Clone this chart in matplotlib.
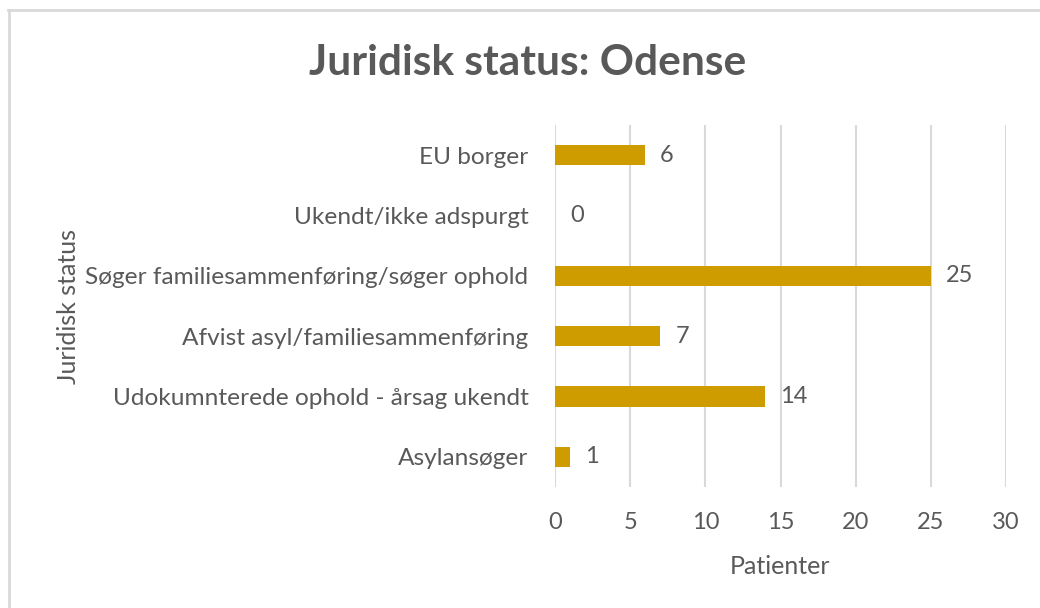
import matplotlib.pyplot as plt
from matplotlib.lines import Line2D

categories = ['Asylansøger', 'Udokumnterede ophold - årsag ukendt', 'Afvist asyl/familiesammenføring',
              'Søger familiesammenføring/søger ophold', 'Ukendt/ikke adspurgt', 'EU borger']
patients = [1, 14, 7, 25, 0, 6]
xticks = [0, 5, 10, 15, 20, 25, 30]

plt.rcParams['font.family'] = ['Lato', 'DejaVu Sans']
text_col = '#595959'
bar_col = '#CF9C00'

fig = plt.figure(figsize=(10.4, 6.08), dpi=100)
ax = fig.add_axes([555 / 1040, 1 - 487 / 608, 451 / 1040, 362 / 608])

y = range(len(categories))
ax.barh(y, patients, height=0.34, color=bar_col, zorder=3)
for yi, v in zip(y, patients):
    ax.text(v + 1.0, yi, str(v), va='center', ha='left', fontsize=17, color=text_col)

ax.set_xlim(0, 30)
ax.set_ylim(-0.5, len(categories) - 0.5)
ax.set_xticks(xticks)
ax.set_yticks(list(y))
ax.set_yticklabels(categories, fontsize=17.6)
ax.tick_params(axis='both', length=0, labelcolor=text_col)
ax.tick_params(axis='x', labelsize=17)
ax.tick_params(axis='y', pad=19)
ax.tick_params(axis='x', pad=18)
ax.grid(axis='x', color='#D9D9D9', linewidth=1.5, zorder=0)
for s in ax.spines.values():
    s.set_visible(False)

ax.set_xlabel('Patienter', fontsize=18, color=text_col, labelpad=16)
fig.text(68 / 1040, 1 - 307 / 608, 'Juridisk status', rotation=90, fontsize=18, color=text_col,
         ha='center', va='center')
fig.text(528 / 1040, 1 - 63 / 608, 'Juridisk status: Odense', fontsize=30.5, fontweight='bold',
         color=text_col, ha='center', va='center')

# chart frame (left and top edges visible)
fig.add_artist(Line2D([9 / 1040, 9 / 1040], [0, 1 - 10 / 608], color='#D9D9D9', linewidth=2))
fig.add_artist(Line2D([8 / 1040, 1], [1 - 10 / 608, 1 - 10 / 608], color='#D9D9D9', linewidth=2))

fig.savefig('out.png', dpi=100)
